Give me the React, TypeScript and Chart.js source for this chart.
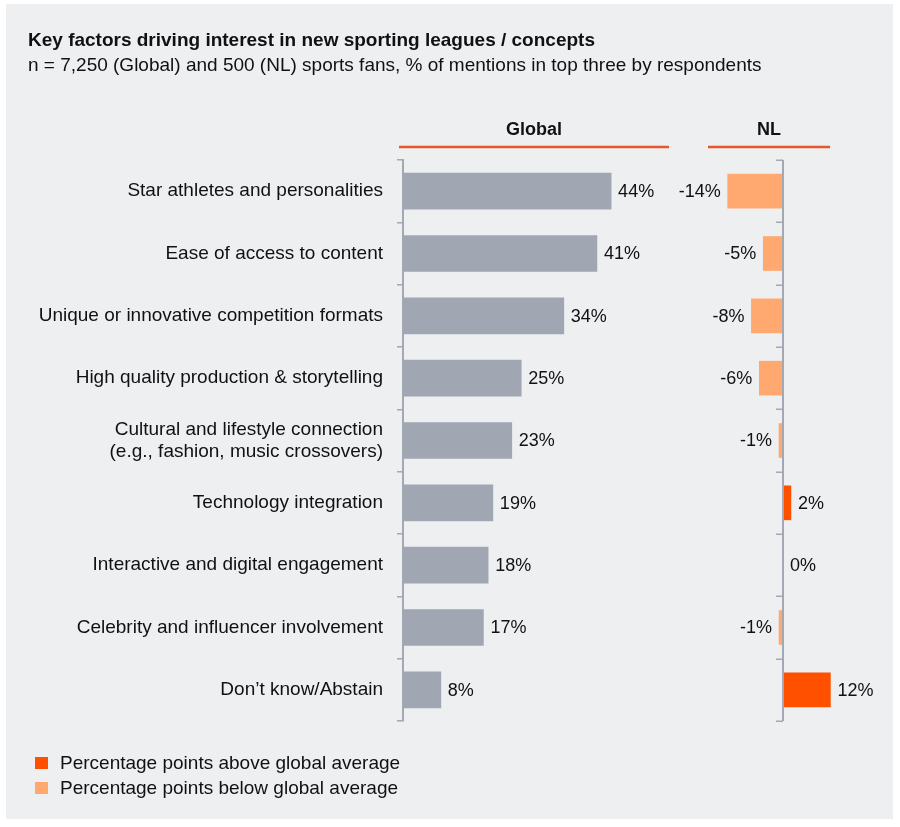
import { useEffect, useRef } from 'react';
import { Chart, registerables } from 'chart.js';

Chart.register(...registerables);

// ---- data ----
const categories: (string | string[])[] = [
  'Star athletes and personalities',
  'Ease of access to content',
  'Unique or innovative competition formats',
  'High quality production & storytelling',
  ['Cultural and lifestyle connection', '(e.g., fashion, music crossovers)'],
  'Technology integration',
  'Interactive and digital engagement',
  'Celebrity and influencer involvement',
  'Don\u2019t know/Abstain',
];
const globalValues = [44, 41, 34, 25, 23, 19, 18, 17, 8];
const nlDiffValues = [-14, -5, -8, -6, -1, 2, 0, -1, 12];
const panelHeaders = ['Global', 'NL'];
const legendLabels = [
  'Percentage points above global average',
  'Percentage points below global average',
];
const titleText = 'Key factors driving interest in new sporting leagues / concepts';
const subtitleText =
  'n = 7,250 (Global) and 500 (NL) sports fans, % of mentions in top three by respondents';

// ---- layout & style ----
const W = 900;
const H = 827;
const FONT = '"Liberation Sans", Arial, Helvetica, sans-serif';
const TEXT = '#111111';
const PANEL_BG = '#eeeff1';
const BAR_GRAY = '#a0a6b2';
const AXIS_GRAY = '#a3a8b3';
const ABOVE = '#ff5000';
const BELOW = '#ffa970';
const HEADER_LINE = '#e8572a';

const AREA_LEFT = 403;
const AREA_RIGHT = 880;
const AREA_TOP = 160;
const AREA_BOTTOM = 721;
const GLOBAL_PX_PER_PCT = 4.73;
const NL_ZERO_X = 783;
const NL_PX_PER_PCT = 3.95;

const TEXT_SIZE = 19;
const VALUE_SIZE = 18;

const fmt = (v: number) => `${v}%`;

const decorPlugin = {
  id: 'decor',
  afterDraw(chart: any) {
    const { ctx, chartArea, scales } = chart;
    const zero = scales.x2.getPixelForValue(0);
    ctx.save();

    // NL axis with boundary ticks
    ctx.strokeStyle = AXIS_GRAY;
    ctx.lineWidth = 2;
    ctx.beginPath();
    ctx.moveTo(zero, chartArea.top);
    ctx.lineTo(zero, chartArea.bottom);
    ctx.stroke();
    ctx.lineWidth = 1.5;
    const n = categories.length;
    for (let i = 0; i <= n; i++) {
      const y = Math.round(chartArea.top + ((chartArea.bottom - chartArea.top) * i) / n) + 0.25;
      ctx.beginPath();
      ctx.moveTo(zero - 7, y);
      ctx.lineTo(zero, y);
      ctx.stroke();
    }

    // value labels
    ctx.fillStyle = TEXT;
    ctx.font = `${VALUE_SIZE}px ${FONT}`;
    ctx.textBaseline = 'middle';
    const gMeta = chart.getDatasetMeta(0);
    gMeta.data.forEach((el: any, i: number) => {
      ctx.textAlign = 'left';
      ctx.fillText(fmt(globalValues[i]), el.x + 7, el.y + 1);
    });
    const nMeta = chart.getDatasetMeta(1);
    nMeta.data.forEach((el: any, i: number) => {
      const v = nlDiffValues[i];
      if (v < 0) {
        ctx.textAlign = 'right';
        ctx.fillText(fmt(v), el.x - 7, el.y + 1);
      } else {
        ctx.textAlign = 'left';
        ctx.fillText(fmt(v), el.x + 7, el.y + 1);
      }
    });

    // panel headers with rules
    ctx.textBaseline = 'alphabetic';
    ctx.textAlign = 'center';
    ctx.font = `bold ${VALUE_SIZE}px ${FONT}`;
    const headerSpans = [
      [399, 669],
      [708, 830],
    ];
    headerSpans.forEach(([a, b], i) => {
      ctx.fillText(panelHeaders[i], (a + b) / 2, 135);
      ctx.strokeStyle = HEADER_LINE;
      ctx.lineWidth = 2.5;
      ctx.beginPath();
      ctx.moveTo(a, 147);
      ctx.lineTo(b, 147);
      ctx.stroke();
    });

    // title & subtitle
    ctx.textAlign = 'left';
    ctx.font = `bold ${TEXT_SIZE}px ${FONT}`;
    ctx.fillText(titleText, 28, 46);
    ctx.font = `${TEXT_SIZE}px ${FONT}`;
    ctx.fillText(subtitleText, 28, 71);

    // legend
    const legendColors = [ABOVE, BELOW];
    legendLabels.forEach((label, i) => {
      const y = 757 + i * 25;
      ctx.fillStyle = legendColors[i];
      ctx.fillRect(35, y, 13, 12);
      ctx.fillStyle = TEXT;
      ctx.font = `${TEXT_SIZE}px ${FONT}`;
      ctx.fillText(label, 60, y + 12);
    });

    ctx.restore();
  },
};

export default function App() {
  const canvasRef = useRef<HTMLCanvasElement | null>(null);

  useEffect(() => {
    const canvas = canvasRef.current;
    if (!canvas) return;
    const chart = new Chart(canvas, {
      type: 'bar',
      data: {
        labels: categories as any,
        datasets: [
          {
            label: 'Global',
            data: globalValues,
            xAxisID: 'x',
            backgroundColor: BAR_GRAY,
            barThickness: 36,
            grouped: false,
            borderWidth: 0,
          } as any,
          {
            label: 'NL',
            data: nlDiffValues,
            xAxisID: 'x2',
            backgroundColor: nlDiffValues.map((v) => (v > 0 ? ABOVE : BELOW)),
            barThickness: 34,
            grouped: false,
            borderWidth: 0,
          } as any,
        ],
      },
      options: {
        indexAxis: 'y',
        responsive: false,
        animation: false,
        devicePixelRatio: 1,
        layout: {
          padding: { top: AREA_TOP, bottom: H - AREA_BOTTOM, left: 0, right: W - AREA_RIGHT },
        },
        plugins: {
          legend: { display: false },
          tooltip: { enabled: false },
          title: { display: false },
        },
        scales: {
          x: {
            display: false,
            min: 0,
            max: (AREA_RIGHT - AREA_LEFT) / GLOBAL_PX_PER_PCT,
          },
          x2: {
            display: false,
            position: 'bottom',
            min: -(NL_ZERO_X - AREA_LEFT) / NL_PX_PER_PCT,
            max: (AREA_RIGHT - NL_ZERO_X) / NL_PX_PER_PCT,
          },
          y: {
            afterFit: (s: any) => {
              s.width = AREA_LEFT;
            },
            grid: {
              offset: true,
              drawOnChartArea: false,
              drawTicks: true,
              tickLength: 6,
              color: AXIS_GRAY,
              lineWidth: 1.5,
            },
            border: { display: true, color: AXIS_GRAY, width: 2 },
            ticks: {
              color: TEXT,
              font: { family: FONT, size: TEXT_SIZE, lineHeight: 1.15 },
              padding: 14,
              autoSkip: false,
            },
          },
        },
      } as any,
      plugins: [decorPlugin],
    });
    return () => chart.destroy();
  }, []);

  return (
    <div style={{ position: 'absolute', left: 0, top: 0, width: W, height: H, background: '#ffffff' }}>
      <div
        style={{
          position: 'absolute',
          left: 6,
          top: 4,
          width: 887,
          height: 815,
          background: PANEL_BG,
        }}
      />
      <canvas
        ref={canvasRef}
        width={W}
        height={H}
        style={{ position: 'absolute', left: 0, top: 0, width: W, height: H }}
      />
    </div>
  );
}
